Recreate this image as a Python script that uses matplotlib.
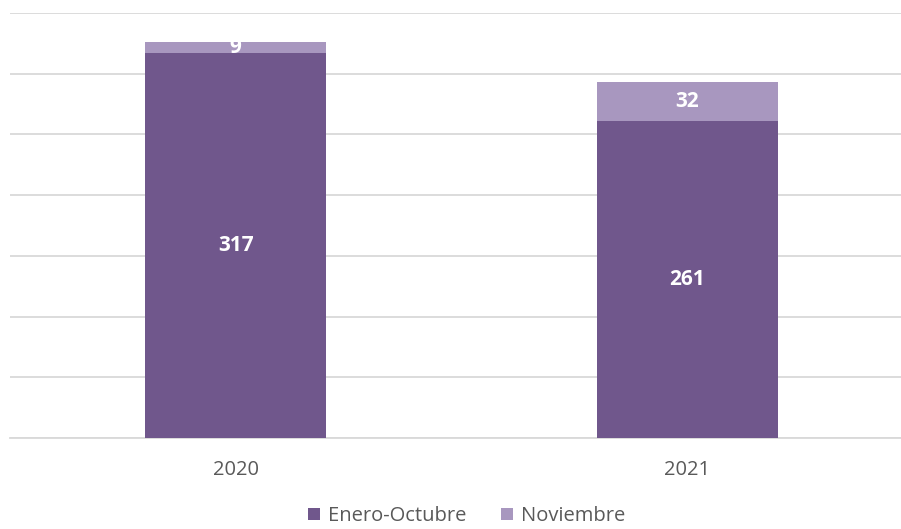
import matplotlib
matplotlib.use("Agg")
import matplotlib.pyplot as plt
import numpy as np

categories = ["2020", "2021"]
enero_octubre = [317, 261]
noviembre = [9, 32]
series_names = ["Enero-Octubre", "Noviembre"]

plt.rcParams['font.family'] = ['Open Sans', 'DejaVu Sans']

W, H = 901, 529
fig = plt.figure(figsize=(W/100, H/100), dpi=100)
ax = fig.add_axes([10/W, 1 - 438/H, (W - 10)/W, (438 - 13)/H])

x = np.arange(len(categories))
c1 = "#70578C"
c2 = "#A897BF"
width = 0.40
ax.bar(x, enero_octubre, width, color=c1, label=series_names[0], zorder=3)
ax.bar(x, noviembre, width, bottom=enero_octubre, color=c2, label=series_names[1], zorder=3)

for i in range(len(categories)):
    ax.text(x[i], enero_octubre[i] / 2, str(enero_octubre[i]), ha="center", va="center",
            color="white", fontsize=15, fontweight="bold", zorder=4)
    ax.text(x[i], enero_octubre[i] + noviembre[i] / 2, str(noviembre[i]), ha="center", va="center",
            color="white", fontsize=15, fontweight="bold", zorder=4)

ax.set_xlim(-0.5, -0.5 + (W - 10) / 451.5)
ax.set_ylim(0, 350)
ax.set_yticks(np.arange(0, 351, 50))
ax.yaxis.grid(True, color="#D9D9D9", linewidth=1.3, zorder=0)
ax.tick_params(axis="y", left=False, labelleft=False)
ax.tick_params(axis="x", bottom=False, colors="#595959", labelsize=14.5, pad=12)
ax.set_xticks(x)
ax.set_xticklabels(categories)
for s in ["top", "right", "left"]:
    ax.spines[s].set_visible(False)
ax.spines["bottom"].set_color("#D9D9D9")
ax.spines["bottom"].set_linewidth(1.3)

leg = fig.legend(loc="center", bbox_to_anchor=(0.518, 1 - 516/H), ncol=2, frameon=False,
                 fontsize=14.5, handlelength=0.6, handleheight=0.6, handletextpad=0.4,
                 columnspacing=1.7, borderpad=0)
for t in leg.get_texts():
    t.set_color("#595959")

fig.savefig("out.png", dpi=100)
